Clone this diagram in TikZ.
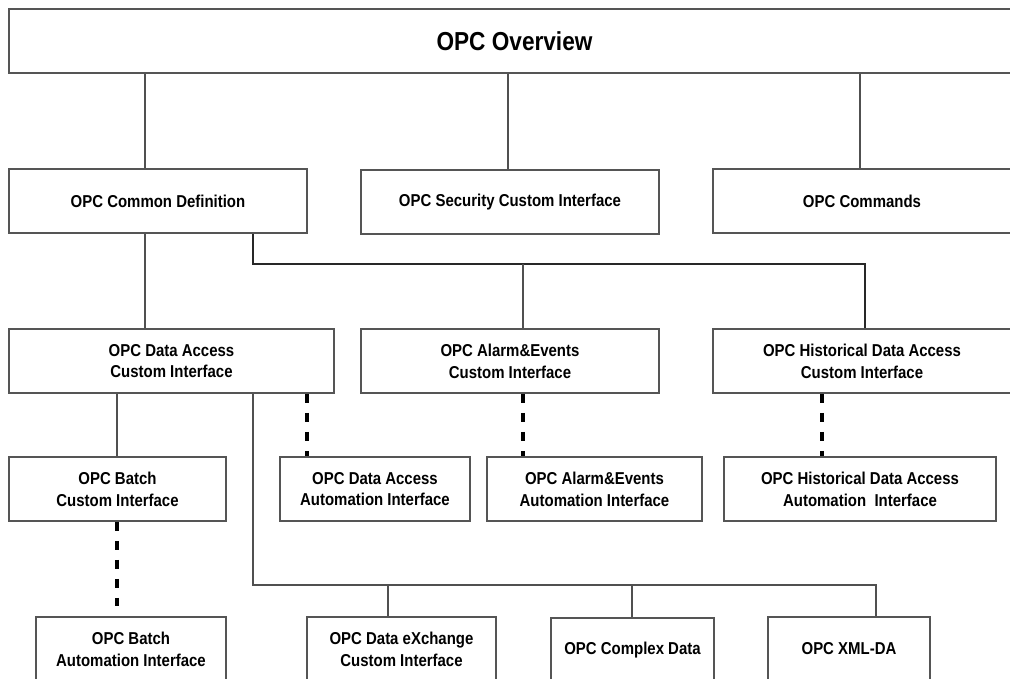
\documentclass[tikz,border=0pt]{standalone}
\usepackage{fontspec}
\setmainfont{Liberation Sans}[FakeStretch=0.87]
\begin{document}
\begin{tikzpicture}[x=1pt,y=-1pt,
  box/.style={draw={rgb,255:red,85;green,85;blue,85}, line width=1.6pt, fill=white,
    align=center, inner sep=0pt, font=\bfseries\fontsize{17.2}{21.7}\selectfont},
  link/.style={draw={rgb,255:red,80;green,80;blue,80}, line width=1.3pt},
  busline/.style={draw={rgb,255:red,40;green,40;blue,40}, line width=1.8pt},
  autolink/.style={draw=black, line width=3.4pt, dash pattern=on 9pt off 10pt}]
\useasboundingbox (0,0) rectangle (1010,678);
\clip (0,0) rectangle (1010,678);

% boxes: centre, width, height in points
\newcommand{\opcbox}[6]{\node[box, minimum width=#4, minimum height=#5] (#1) at (#2,#3) {#6};}

\opcbox{top}{514.5}{41}{1011pt}{64pt}{\fontsize{26}{30}\selectfont OPC Overview}

\opcbox{cd}{158}{201}{298pt}{64pt}{OPC Common Definition}
\opcbox{sec}{510}{202}{298pt}{64pt}{OPC Security Custom Interface}
\opcbox{cmd}{862}{201}{298pt}{64pt}{OPC Commands}

\opcbox{da}{171.5}{361}{325pt}{64pt}{OPC Data Access\\Custom Interface}
\opcbox{ae}{510}{361}{298pt}{64pt}{OPC Alarm\&Events\\Custom Interface}
\opcbox{hda}{862}{361}{298pt}{64pt}{OPC Historical Data Access\\Custom Interface}

\opcbox{bc}{117.5}{489}{217pt}{64pt}{OPC Batch\\Custom Interface}
\opcbox{daa}{375}{489}{190pt}{64pt}{OPC Data Access\\Automation Interface}
\opcbox{aea}{594.5}{489}{215pt}{64pt}{OPC Alarm\&Events\\Automation Interface}
\opcbox{hdaa}{860}{489}{272pt}{64pt}{OPC Historical Data Access\\Automation\ \ Interface}

\opcbox{ba}{131}{649}{190pt}{64pt}{OPC Batch\\Automation Interface}
\opcbox{dx}{401.5}{649}{189pt}{64pt}{OPC Data eXchange\\Custom Interface}
\opcbox{cx}{632.5}{650}{163pt}{64pt}{OPC Complex Data}
\opcbox{xml}{849}{649}{162pt}{64pt}{OPC XML-DA}

% connector columns
\coordinate (k1) at (145,0);
\coordinate (k2) at (508,0);
\coordinate (k3) at (860,0);
\coordinate (k4) at (253,0);
\coordinate (k5) at (523,0);
\coordinate (k6) at (865,0);
\coordinate (k7) at (117,0);
\coordinate (k8) at (388,0);
\coordinate (k9) at (632,0);
\coordinate (k10) at (876,0);
\coordinate (k11) at (307,0);
\coordinate (k12) at (822,0);
\coordinate (bus1) at (0,264);
\coordinate (bus2) at (0,585);
\coordinate (bend) at (117,606);

% overview to the three base parts
\draw[link] (top.south -| k1) -- (cd.north -| k1);
\draw[link] (top.south -| k2) -- (sec.north -| k2);
\draw[link] (top.south -| k3) -- (cmd.north -| k3);

% common definition to the custom interfaces
\draw[link] (cd.south -| k1) -- (da.north -| k1);
\draw[busline] (cd.south -| k4) -- (k4 |- bus1) -- (k6 |- bus1) -- (hda.north -| k6);
\draw[link] (k5 |- bus1) -- (ae.north -| k5);

% data access family
\draw[link] (da.south -| k7) -- (bc.north -| k7);
\draw[link] (da.south -| k4) -- (k4 |- bus2) -- (k10 |- bus2) -- (xml.north -| k10);
\draw[link] (k8 |- bus2) -- (dx.north -| k8);
\draw[link] (k9 |- bus2) -- (cx.north -| k9);

% custom to automation interfaces
\draw[autolink] (da.south -| k11) -- (daa.north -| k11);
\draw[autolink] (ae.south -| k5) -- (aea.north -| k5);
\draw[autolink] (hda.south -| k12) -- (hdaa.north -| k12);
\draw[autolink] (bc.south -| k7) -- (bend);
\end{tikzpicture}
\end{document}
